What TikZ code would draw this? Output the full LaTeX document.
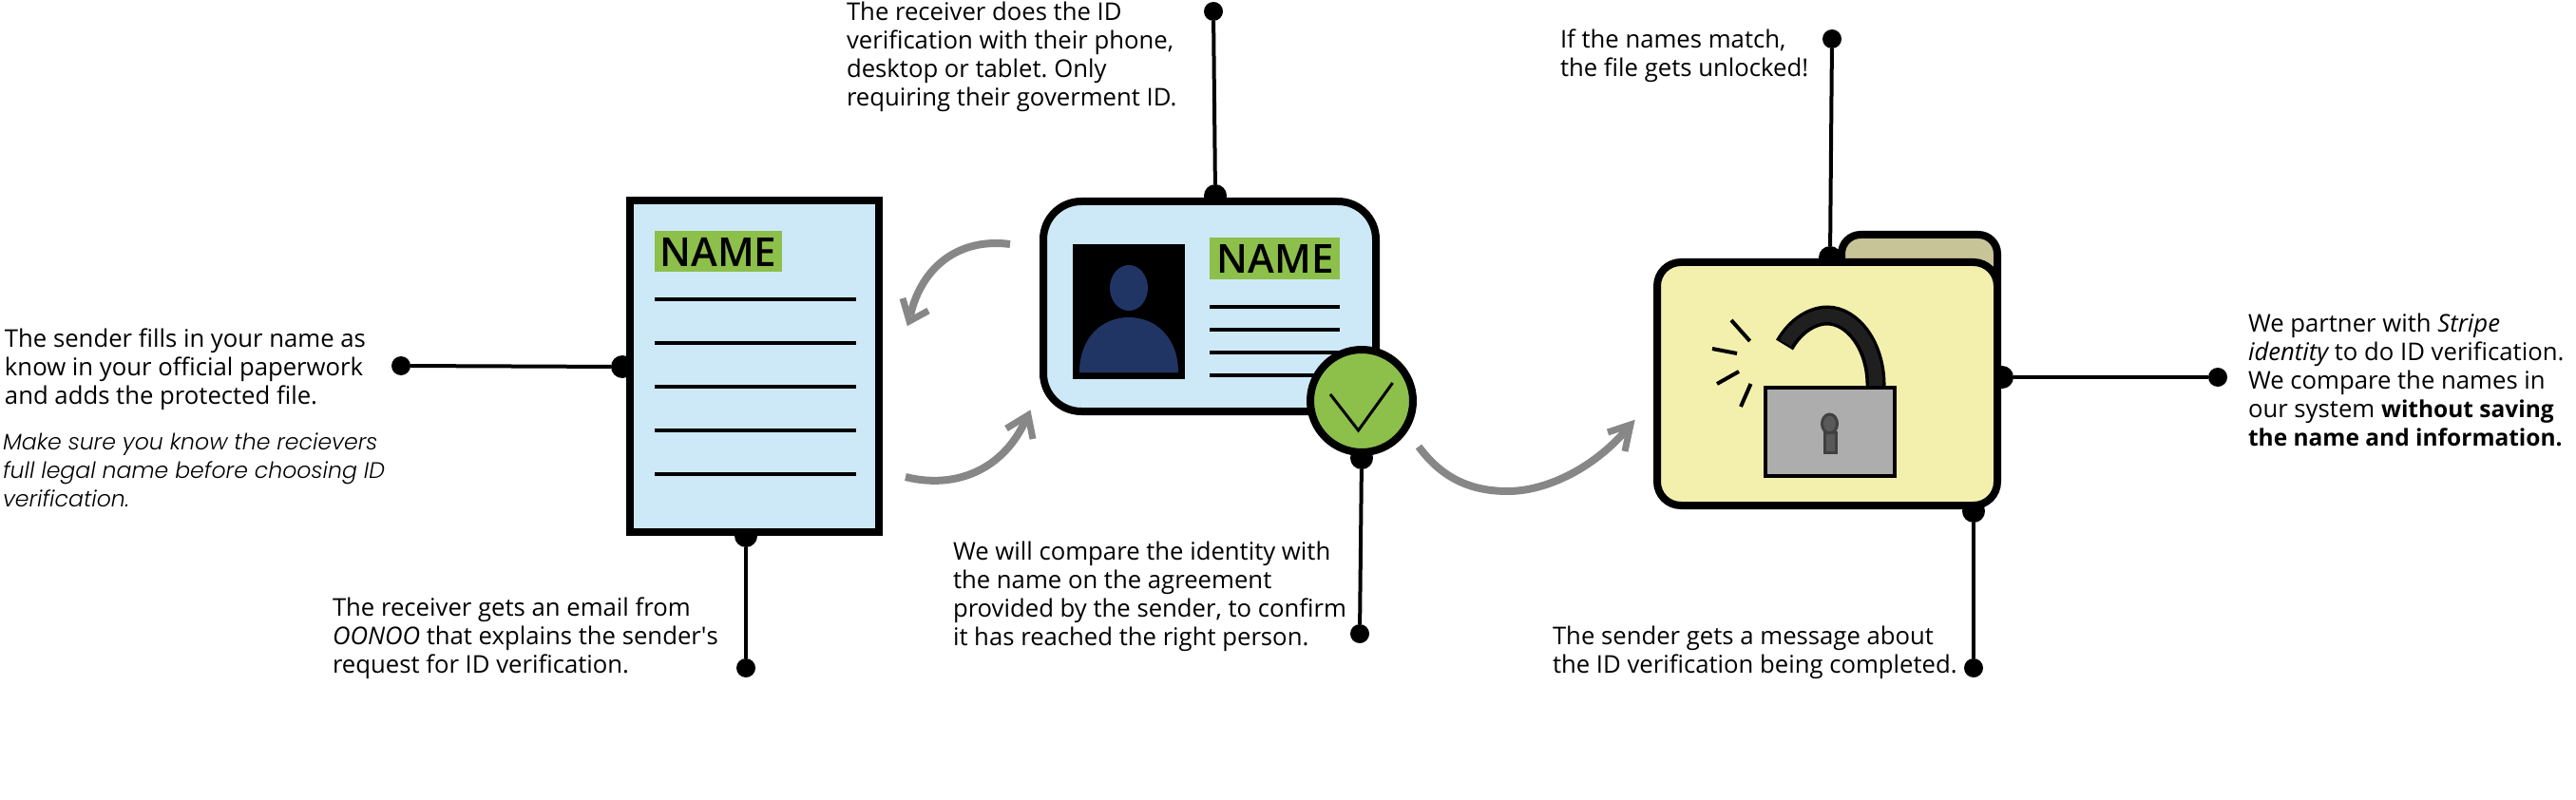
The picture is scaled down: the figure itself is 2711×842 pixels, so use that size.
\documentclass[tikz,border=0pt]{standalone}
\usepackage{fontspec}
\setmainfont{Open Sans}
\newfontfamily\lightit[ItalicFont={Poppins Light Italic}]{Poppins Light}
\newfontfamily\namefont{Open Sans Semibold}
\usetikzlibrary{calc}
\frenchspacing
\definecolor{paleblue}{HTML}{CDE9F7}
\definecolor{namegreen}{HTML}{8DBF4B}
\definecolor{navy}{HTML}{213564}
\definecolor{arrowgray}{HTML}{878787}
\definecolor{foldfront}{HTML}{F3F0AE}
\definecolor{foldback}{HTML}{C7C497}
\definecolor{lockgray}{HTML}{ADADAD}
\tikzset{
 x=1pt,y=-1pt,
 txt/.style={anchor=base west,inner sep=0pt,outer sep=0pt,font=\fontsize{25.7}{30}\selectfont},
 itxt/.style={anchor=base west,inner sep=0pt,outer sep=0pt,font=\fontsize{23.6}{30}\selectfont\lightit\itshape},
 namelbl/.style={anchor=center,inner sep=0pt,font=\fontsize{42}{42}\selectfont\namefont},
 dot/.style={circle,fill=black,inner sep=0pt,minimum size=20pt,draw=none},
 edot/.style={circle,fill=black,inner sep=0pt,minimum size=24pt,draw=none},
 lead/.style={draw=black,line width=4pt},
 rule/.style={draw=black,line width=4pt},
 flow/.style={draw=arrowgray,line width=8pt},
 tipl/.style={draw=arrowgray,line width=7pt,miter limit=10},
}
\newcommand{\tl}[3]{\node[txt] at (#1,#2) {#3};}
\newcommand{\il}[3]{\node[itxt] at (#1,#2) {#3};}
\newcommand{\bl}[1]{{\fontsize{24.5}{30}\selectfont\bfseries #1}}
\begin{document}
\begin{tikzpicture}
\useasboundingbox (0,0) rectangle (2711,842);
% connector ends
\node[dot] (d1) at (422,385) {};
\node[edot] (e1) at (655,386) {};
\draw[lead] (d1) -- (e1);
\node[dot] (d2) at (785,703) {};
\node[edot] (e2) at (785,564) {};
\draw[lead] (d2) -- (e2);
\node[dot] (d3) at (1277,12) {};
\node[edot] (e3) at (1279,206) {};
\draw[lead] (d3) -- (e3);
\node[dot] (d4) at (1431,667) {};
\node[edot] (e4) at (1433,482) {};
\draw[lead] (d4) -- (e4);
\node[dot] (d5) at (1928,41) {};
\node[edot] (e5) at (1926,271) {};
\draw[lead] (d5) -- (e5);
\node[dot] (d6) at (2334,397) {};
\node[edot] (e6) at (2107,397) {};
\draw[lead] (d6) -- (e6);
\node[dot] (d7) at (2077,703) {};
\node[edot] (e7) at (2077,538) {};
\draw[lead] (d7) -- (e7);
% document
\draw[draw=black,line width=8pt,fill=paleblue] (663,211) rectangle (925,560);
\fill[namegreen] (689,243) rectangle (823,286);
\node[namelbl] (n1) at (756,265) {NAME};
\foreach \y in {315,361,407,453,499} \draw[rule] (689,\y) -- (901,\y);
% id card
\draw[draw=black,line width=8pt,fill=paleblue,rounded corners=40pt] (1098,212) rectangle (1448,433);
\fill[black] (1129,257) rectangle (1247,399);
\fill[navy] (1188,303) ellipse [x radius=20,y radius=24];
\fill[navy] (1136,392) .. controls (1136,355) and (1160,334) .. (1188,334) .. controls (1216,334) and (1240,355) .. (1240,392) -- cycle;
\fill[namegreen] (1273,250) rectangle (1410,294);
\node[namelbl] (n2) at (1342,272) {NAME};
\foreach \y in {323,347,371,395} \draw[rule] (1273,\y) -- (1410,\y);
\draw[draw=black,line width=8pt,fill=namegreen] (1433,422) circle [radius=54];
\draw[black,line width=3pt] (1400,415) -- (1429.5,453) -- (1465.6,403);
% folder
\draw[draw=black,line width=8pt,fill=foldback,rounded corners=20pt] (1938,247) rectangle (2102,320);
\draw[draw=black,line width=8pt,fill=foldfront,rounded corners=25pt] (1744,276) rectangle (2102,532);
\draw[black,line width=21pt] (1878,363) .. controls (1890,342) and (1908,332) .. (1923,332) .. controls (1950,332) and (1975,365) .. (1974,408);
\draw[black!88!white,line width=14pt] (1879,361) .. controls (1890,342) and (1908,332) .. (1923,332) .. controls (1950,332) and (1975,365) .. (1974,406);
\draw[draw=black,line width=3.5pt,fill=lockgray] (1858,408) rectangle (1994,501);
\draw[draw=black!75,line width=3pt,fill=black!65] (1925.5,446) ellipse [x radius=8,y radius=10];
\draw[draw=black!75,line width=3pt,fill=black!65] (1920,455) rectangle (1932,476);
\draw[black,line width=4pt] (1822,337) -- (1841.6,359);
\draw[black,line width=4pt] (1802,367) -- (1828,372);
\draw[black,line width=4pt] (1830,391) -- (1807,404);
\draw[black,line width=4pt] (1842.5,404) -- (1832,428);
% arrows
\draw[flow] (1063,257) .. controls (1010,250) and (970,280) .. (958,332);
\draw[tipl] (950,314) -- (957,338) -- (977,327);
\draw[flow] (953,502) .. controls (1005,515) and (1055,495) .. (1079,443);
\draw[tipl] (1059,451) -- (1082,437) -- (1087,462);
\draw[flow] (1493,470) .. controls (1520,507) and (1553,517) .. (1587,517) .. controls (1625,517) and (1675,495) .. (1712,452);
\draw[tipl] (1692,455) -- (1716,447) -- (1710,475);
% labels
\tl{5}{365}{The sender fills in your name as}
\tl{5}{395}{know in your official paperwork}
\tl{5}{425}{and adds the protected file.}
\il{3}{473}{Make sure you know the recievers}
\il{3}{503}{full legal name before choosing ID}
\il{3}{533}{verification.}
\tl{350}{648}{The receiver gets an email from}
\tl{350}{678}{\itshape OONOO \upshape that explains the sender\textquotesingle s}
\tl{350}{708}{request for ID verification.}
\tl{891}{22}{The receiver does the ID}
\tl{891}{52}{verification with their phone,}
\tl{891}{82}{desktop or tablet. Only}
\tl{891}{112}{requiring their goverment ID.}
\tl{1003}{589}{We will compare the identity with}
\tl{1003}{619}{the name on the agreement}
\tl{1003}{649}{provided by the sender, to confirm}
\tl{1003}{679}{it has reached the right person.}
\tl{1642}{51}{If the names match,}
\tl{1642}{81}{the file gets unlocked!}
\tl{1634}{678}{The sender gets a message about}
\tl{1634}{708}{the ID verification being completed.}
\tl{2366}{349}{We partner with \itshape Stripe}
\tl{2366}{379}{\itshape identity \upshape to do ID verification.}
\tl{2366}{409}{We compare the names in}
\tl{2366}{439}{our system \bl{without saving}}
\tl{2366}{469}{\bl{the name and information.}}
\end{tikzpicture}
\end{document}
